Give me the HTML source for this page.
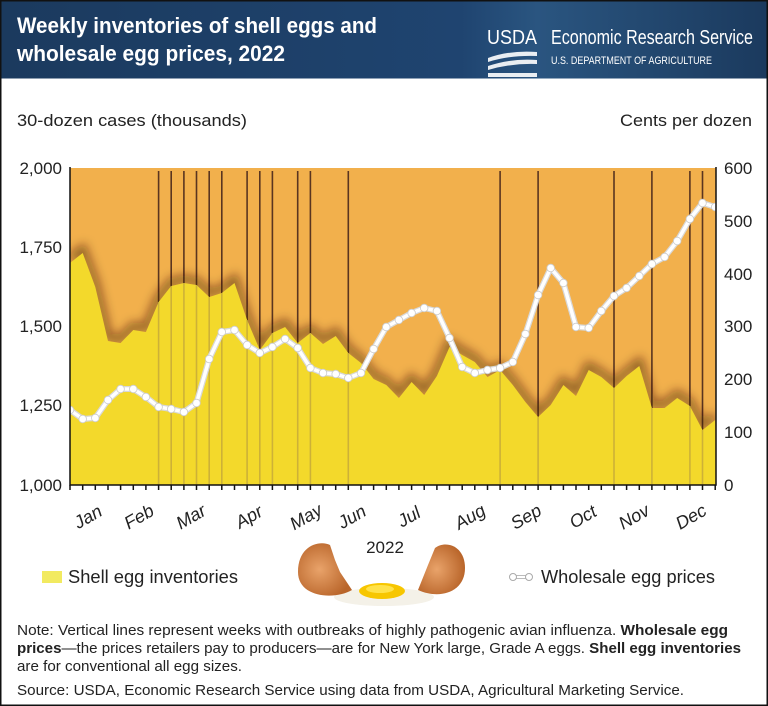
<!DOCTYPE html>
<html><head><meta charset="utf-8"><style>
html,body{margin:0;padding:0;background:#fff}
svg{display:block}
text{font-family:"Liberation Sans Narrow","Liberation Sans",sans-serif}
</style></head><body>
<svg width="768" height="706" viewBox="0 0 768 706" xmlns="http://www.w3.org/2000/svg">
<defs>
<linearGradient id="hd" x1="0" y1="0" x2="1" y2="0"><stop offset="0" stop-color="#1b3a5e"/><stop offset="0.6" stop-color="#1f4470"/><stop offset="0.7" stop-color="#2a5580"/><stop offset="1" stop-color="#1b3a5e"/></linearGradient>
<filter id="bl" x="-10%" y="-50%" width="120%" height="200%"><feGaussianBlur stdDeviation="5"/></filter>
<clipPath id="pc"><rect x="70" y="168" width="646" height="317"/></clipPath>
<radialGradient id="sh" cx="0.4" cy="0.5" r="0.6"><stop offset="0" stop-color="#e9a36a"/><stop offset="1" stop-color="#b9652a"/></radialGradient>
</defs>
<rect x="0" y="0" width="768" height="706" fill="#fff" stroke="#111" stroke-width="3"/>
<rect x="1.5" y="1.5" width="765" height="77" fill="url(#hd)"/>
<text x="17" y="33" fill="#fff" font-size="22" font-weight="bold" textLength="360" lengthAdjust="spacingAndGlyphs">Weekly inventories of shell eggs and</text>
<text x="17" y="61" fill="#fff" font-size="22" font-weight="bold" textLength="268" lengthAdjust="spacingAndGlyphs">wholesale egg prices, 2022</text>
<text x="487" y="44" fill="#fff" font-size="20" textLength="50" lengthAdjust="spacingAndGlyphs">USDA</text>
<path d="M488 58 Q510 50 537 52 L537 56 Q510 55 488 62 Z M488 66 Q512 58 537 60 L537 64 Q512 63 488 70 Z M488 73 L537 73 L537 77 L488 77 Z" fill="#fff" opacity="0.9"/>
<text x="551" y="44" fill="#fff" font-size="20" textLength="202" lengthAdjust="spacingAndGlyphs">Economic Research Service</text>
<text x="551" y="64" fill="#fff" font-size="11" textLength="161" lengthAdjust="spacingAndGlyphs">U.S. DEPARTMENT OF AGRICULTURE</text>

<text x="17" y="126" fill="#222" font-size="17" textLength="230" lengthAdjust="spacingAndGlyphs">30-dozen cases (thousands)</text>
<text x="752" y="126" fill="#222" font-size="17" text-anchor="end" textLength="132" lengthAdjust="spacingAndGlyphs">Cents per dozen</text>

<g clip-path="url(#pc)">
<rect x="70" y="168" width="646" height="317" fill="#f2b04c"/>
<g stroke="#5a3520" stroke-width="1.6">
<path d="M158.6 171V485M171.2 171V485M183.9 171V485M196.5 171V485M209.2 171V485M221.8 171V485M247.1 171V485M259.8 171V485M272.4 171V485M297.7 171V485M310.4 171V485M348.3 171V485M500.1 171V485M538.1 171V485M614 171V485M651.9 171V485M689.9 171V485M702.5 171V485"/>
</g>
<polyline filter="url(#bl)" fill="none" stroke="#3a1a00" stroke-opacity="0.55" stroke-width="8" transform="translate(0,-4)" points="70,263 82.7,253 95.3,287 108,341 120.6,343 133.3,330 145.9,332 158.6,302 171.2,286 183.9,283 196.5,285 209.2,297 221.8,293 234.5,283 247.1,320 259.8,350 272.4,333 285.1,327 297.7,343 310.4,333 323,344 335.7,336 348.3,353 361,363 373.6,379 386.3,385 398.9,398 411.6,382 424.2,395 436.9,376 449.5,347 462.2,355 474.8,362 487.5,377 500.1,370 512.8,385 525.4,402 538.1,417 550.7,405 563.4,385 576,396 588.7,370 601.3,377 614,388 626.6,376 639.3,366 651.9,408 664.6,408 677.2,398 689.9,406 702.5,430 715.2,420"/>
<polygon fill="#f3d92b" points="70,485 70,263 82.7,253 95.3,287 108,341 120.6,343 133.3,330 145.9,332 158.6,302 171.2,286 183.9,283 196.5,285 209.2,297 221.8,293 234.5,283 247.1,320 259.8,350 272.4,333 285.1,327 297.7,343 310.4,333 323,344 335.7,336 348.3,353 361,363 373.6,379 386.3,385 398.9,398 411.6,382 424.2,395 436.9,376 449.5,347 462.2,355 474.8,362 487.5,377 500.1,370 512.8,385 525.4,402 538.1,417 550.7,405 563.4,385 576,396 588.7,370 601.3,377 614,388 626.6,376 639.3,366 651.9,408 664.6,408 677.2,398 689.9,406 702.5,430 715.2,420 716,485"/>
<g stroke="#c4a83a" stroke-width="1.6" opacity="0.8">
<path d="M158.6 302V485M171.2 286V485M183.9 283V485M196.5 285V485M209.2 297V485M221.8 293V485M247.1 320V485M259.8 350V485M272.4 333V485M297.7 343V485M310.4 333V485M348.3 353V485M500.1 370V485M538.1 417V485M614 388V485M651.9 408V485M689.9 406V485M702.5 430V485"/>
</g>
<polyline fill="none" stroke="#d8d8d8" stroke-width="6" stroke-linejoin="round" points="70,410 82.7,419 95.3,418 108,400 120.6,389 133.3,389 145.9,397 158.6,407 171.2,409 183.9,412 196.5,403 209.2,359 221.8,332 234.5,330 247.1,345 259.8,353 272.4,347 285.1,339 297.7,348 310.4,368 323,373 335.7,374 348.3,378 361,373 373.6,349 386.3,327 398.9,320 411.6,313 424.2,308 436.9,311 449.5,338 462.2,367 474.8,373 487.5,370 500.1,368 512.8,362 525.4,334 538.1,295 550.7,268 563.4,283 576,327 588.7,328 601.3,311 614,296 626.6,288 639.3,276 651.9,264 664.6,257 677.2,241 689.9,219 702.5,203 715.2,207"/>
<polyline fill="none" stroke="#fff" stroke-width="3.5" stroke-linejoin="round" points="70,410 82.7,419 95.3,418 108,400 120.6,389 133.3,389 145.9,397 158.6,407 171.2,409 183.9,412 196.5,403 209.2,359 221.8,332 234.5,330 247.1,345 259.8,353 272.4,347 285.1,339 297.7,348 310.4,368 323,373 335.7,374 348.3,378 361,373 373.6,349 386.3,327 398.9,320 411.6,313 424.2,308 436.9,311 449.5,338 462.2,367 474.8,373 487.5,370 500.1,368 512.8,362 525.4,334 538.1,295 550.7,268 563.4,283 576,327 588.7,328 601.3,311 614,296 626.6,288 639.3,276 651.9,264 664.6,257 677.2,241 689.9,219 702.5,203 715.2,207"/>
<g fill="#fff" stroke="#ccc" stroke-width="0.8">
<circle cx="70" cy="410" r="3.8"/><circle cx="82.7" cy="419" r="3.8"/><circle cx="95.3" cy="418" r="3.8"/><circle cx="108" cy="400" r="3.8"/><circle cx="120.6" cy="389" r="3.8"/><circle cx="133.3" cy="389" r="3.8"/><circle cx="145.9" cy="397" r="3.8"/><circle cx="158.6" cy="407" r="3.8"/><circle cx="171.2" cy="409" r="3.8"/><circle cx="183.9" cy="412" r="3.8"/><circle cx="196.5" cy="403" r="3.8"/><circle cx="209.2" cy="359" r="3.8"/><circle cx="221.8" cy="332" r="3.8"/><circle cx="234.5" cy="330" r="3.8"/><circle cx="247.1" cy="345" r="3.8"/><circle cx="259.8" cy="353" r="3.8"/><circle cx="272.4" cy="347" r="3.8"/><circle cx="285.1" cy="339" r="3.8"/><circle cx="297.7" cy="348" r="3.8"/><circle cx="310.4" cy="368" r="3.8"/><circle cx="323" cy="373" r="3.8"/><circle cx="335.7" cy="374" r="3.8"/><circle cx="348.3" cy="378" r="3.8"/><circle cx="361" cy="373" r="3.8"/><circle cx="373.6" cy="349" r="3.8"/><circle cx="386.3" cy="327" r="3.8"/><circle cx="398.9" cy="320" r="3.8"/><circle cx="411.6" cy="313" r="3.8"/><circle cx="424.2" cy="308" r="3.8"/><circle cx="436.9" cy="311" r="3.8"/><circle cx="449.5" cy="338" r="3.8"/><circle cx="462.2" cy="367" r="3.8"/><circle cx="474.8" cy="373" r="3.8"/><circle cx="487.5" cy="370" r="3.8"/><circle cx="500.1" cy="368" r="3.8"/><circle cx="512.8" cy="362" r="3.8"/><circle cx="525.4" cy="334" r="3.8"/><circle cx="538.1" cy="295" r="3.8"/><circle cx="550.7" cy="268" r="3.8"/><circle cx="563.4" cy="283" r="3.8"/><circle cx="576" cy="327" r="3.8"/><circle cx="588.7" cy="328" r="3.8"/><circle cx="601.3" cy="311" r="3.8"/><circle cx="614" cy="296" r="3.8"/><circle cx="626.6" cy="288" r="3.8"/><circle cx="639.3" cy="276" r="3.8"/><circle cx="651.9" cy="264" r="3.8"/><circle cx="664.6" cy="257" r="3.8"/><circle cx="677.2" cy="241" r="3.8"/><circle cx="689.9" cy="219" r="3.8"/><circle cx="702.5" cy="203" r="3.8"/><circle cx="715.2" cy="207" r="3.8"/>
</g>
</g>
<g stroke="#111" stroke-width="1.5" fill="none">
<path d="M70 167V485H716V167"/>
<path d="M70 485v5M82.7 485v5M95.3 485v5M108 485v5M120.6 485v5M133.3 485v5M145.9 485v5M158.6 485v5M171.2 485v5M183.9 485v5M196.5 485v5M209.2 485v5M221.8 485v5M234.5 485v5M247.1 485v5M259.8 485v5M272.4 485v5M285.1 485v5M297.7 485v5M310.4 485v5M323 485v5M335.7 485v5M348.3 485v5M361 485v5M373.6 485v5M386.3 485v5M398.9 485v5M411.6 485v5M424.2 485v5M436.9 485v5M449.5 485v5M462.2 485v5M474.8 485v5M487.5 485v5M500.1 485v5M512.8 485v5M525.4 485v5M538.1 485v5M550.7 485v5M563.4 485v5M576 485v5M588.7 485v5M601.3 485v5M614 485v5M626.6 485v5M639.3 485v5M651.9 485v5M664.6 485v5M677.2 485v5M689.9 485v5M702.5 485v5M715.2 485v5"/>
</g>
<g font-size="17" fill="#222" text-anchor="end">
<text x="62" y="174">2,000</text><text x="62" y="253">1,750</text><text x="62" y="332">1,500</text><text x="62" y="411">1,250</text><text x="62" y="491">1,000</text>
</g>
<g font-size="17" fill="#222">
<text x="724" y="174">600</text><text x="724" y="227">500</text><text x="724" y="280">400</text><text x="724" y="332">300</text><text x="724" y="385">200</text><text x="724" y="438">100</text><text x="724" y="491">0</text>
</g>
<g font-size="18" fill="#222" font-style="italic" text-anchor="middle">
<text transform="translate(91,522) rotate(-30)">Jan</text>
<text transform="translate(142,522) rotate(-30)">Feb</text>
<text transform="translate(194,522) rotate(-30)">Mar</text>
<text transform="translate(252,522) rotate(-30)">Apr</text>
<text transform="translate(309,522) rotate(-30)">May</text>
<text transform="translate(355,522) rotate(-30)">Jun</text>
<text transform="translate(412,522) rotate(-30)">Jul</text>
<text transform="translate(473,522) rotate(-30)">Aug</text>
<text transform="translate(529,522) rotate(-30)">Sep</text>
<text transform="translate(586,522) rotate(-30)">Oct</text>
<text transform="translate(637,522) rotate(-30)">Nov</text>
<text transform="translate(694,522) rotate(-30)">Dec</text>
</g>
<ellipse cx="384" cy="597" rx="50" ry="9" fill="#f4f1e8"/>
<ellipse cx="382" cy="591" rx="23" ry="8" fill="#f7c600"/>
<ellipse cx="380" cy="589" rx="14" ry="4" fill="#ffe24a"/>
<path d="M298 572 C298 545 320 540 330 545 L335 560 L340 572 L352 590 C335 600 298 598 298 572 Z" fill="url(#sh)"/>
<path d="M465 568 C465 545 445 540 435 548 L428 565 L418 590 C440 600 465 592 465 568 Z" fill="url(#sh)"/>
<text x="385" y="553" font-size="17" fill="#222" text-anchor="middle">2022</text>
<rect x="42" y="571" width="20" height="12" fill="#f2ea60"/>
<text x="68" y="583" font-size="18" fill="#222" textLength="170" lengthAdjust="spacingAndGlyphs">Shell egg inventories</text>
<path d="M510 577H532" stroke="#bbb" stroke-width="4"/><path d="M510 577H532" stroke="#fff" stroke-width="2"/>
<circle cx="513" cy="577" r="3.5" fill="#fff" stroke="#aaa"/><circle cx="529" cy="577" r="3.5" fill="#fff" stroke="#aaa"/>
<text x="541" y="583" font-size="18" fill="#222" textLength="174" lengthAdjust="spacingAndGlyphs">Wholesale egg prices</text>
<g font-size="14.5" fill="#222">
<text x="17" y="635" textLength="711" lengthAdjust="spacingAndGlyphs">Note: Vertical lines represent weeks with outbreaks of highly pathogenic avian influenza. <tspan font-weight="bold">Wholesale egg</tspan></text>
<text x="17" y="653" textLength="724" lengthAdjust="spacingAndGlyphs"><tspan font-weight="bold">prices</tspan>—the prices retailers pay to producers—are for New York large, Grade A eggs. <tspan font-weight="bold">Shell egg inventories</tspan></text>
<text x="17" y="671" textLength="225" lengthAdjust="spacingAndGlyphs">are for conventional all egg sizes.</text>
<text x="17" y="695" textLength="667" lengthAdjust="spacingAndGlyphs">Source: USDA, Economic Research Service using data from USDA, Agricultural Marketing Service.</text>
</g>
</svg>
</body></html>
